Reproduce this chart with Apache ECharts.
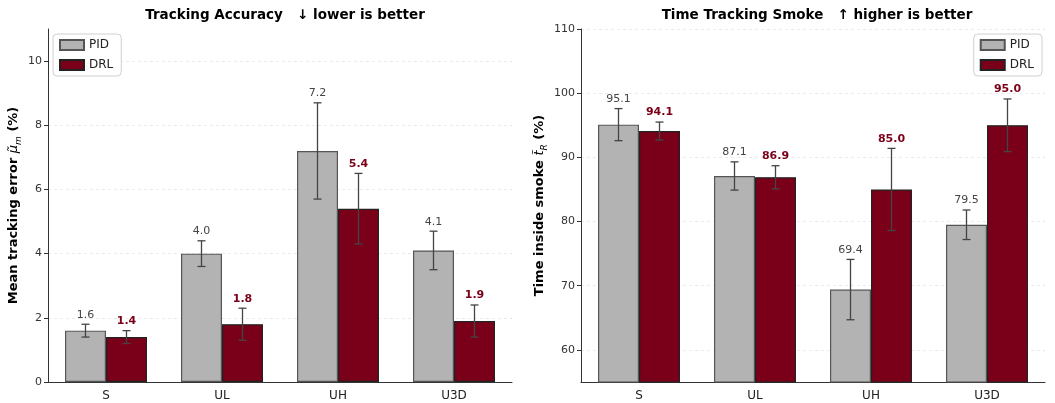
<!DOCTYPE html>
<html>
	<head>
		<meta charset="UTF-8">
		<title></title>
		<style>
			body{ margin: 0; background: #fff; }
		</style>
	</head>
	<script src="https://cdn.jsdelivr.net/npm/echarts@6/dist/echarts.min.js"></script>
	<body>
		<div id="main" style="width: 1055px;height:403px;"></div>
	</body>
	<script>
		// 数据
		var categories = ['S', 'UL', 'UH', 'U3D']
		var seriesNames = ['PID', 'DRL']

		// 左图：平均跟踪误差
		var errPid = [1.6, 4.0, 7.2, 4.1]
		var errDrl = [1.4, 1.8, 5.4, 1.9]
		var errPidStd = [0.2, 0.4, 1.5, 0.6]
		var errDrlStd = [0.2, 0.5, 1.1, 0.5]
		var errTicks = [0, 2, 4, 6, 8, 10]

		// 右图：在烟雾中的时间
		var smokePid = [95.1, 87.1, 69.4, 79.5]
		var smokeDrl = [94.1, 86.9, 85.0, 95.0]
		var smokePidStd = [2.5, 2.2, 4.7, 2.3]
		var smokeDrlStd = [1.4, 1.8, 6.4, 4.1]
		var smokeTicks = [60, 70, 80, 90, 100, 110]

		var FONT = 'DejaVu Sans'
		var PID_COLOR = '#b3b3b3'
		var DRL_COLOR = '#7a0019'
		var BAR_W = 41

		var myChart = echarts.init(document.getElementById('main'))

		function barSeries(name, data, idx, color, border) {
			return {
				name: name,
				type: 'bar',
				xAxisIndex: idx,
				yAxisIndex: idx,
				data: data,
				barWidth: BAR_W,
				barGap: '0%',
				itemStyle: { color: color, borderColor: border, borderWidth: 1.2 },
				z: 2
			}
		}

		// 误差棒 + 数值标签
		function errorSeries(idx, pid, drl, pidStd, drlStd) {
			var data = []
			for (var i = 0; i < pid.length; i++) {
				data.push([i, pid[i], pidStd[i], 0])
				data.push([i, drl[i], drlStd[i], 1])
			}
			return {
				type: 'custom',
				xAxisIndex: idx,
				yAxisIndex: idx,
				data: data,
				z: 5,
				silent: true,
				encode: { x: 0, y: 1 },
				renderItem: function (params, api) {
					var c = api.value(0), v = api.value(1), e = api.value(2), s = api.value(3)
					var off = (s === 0 ? -1 : 1) * BAR_W / 2
					var top = api.coord([c, v + e])
					var bot = api.coord([c, v - e])
					var x = top[0] + off
					var st = { stroke: '#444', lineWidth: 1.3 }
					return {
						type: 'group',
						children: [
							{ type: 'line', shape: { x1: x, y1: top[1], x2: x, y2: bot[1] }, style: st },
							{ type: 'line', shape: { x1: x - 4, y1: top[1], x2: x + 4, y2: top[1] }, style: st },
							{ type: 'line', shape: { x1: x - 4, y1: bot[1], x2: x + 4, y2: bot[1] }, style: st },
							{
								type: 'text',
								x: x, y: top[1] - 4,
								style: {
									text: v.toFixed(1),
									textAlign: 'center',
									textVerticalAlign: 'bottom',
									fontFamily: FONT,
									fontSize: 11,
									fontWeight: s === 0 ? 'normal' : 'bold',
									fill: s === 0 ? '#444' : DRL_COLOR
								}
							}
						]
					}
				}
			}
		}

		function xAxisOpt(idx) {
			return {
				type: 'category',
				gridIndex: idx,
				data: categories,
				axisLine: { lineStyle: { color: '#333', width: 1 } },
				axisTick: { show: false },
				axisLabel: { color: '#222', fontSize: 12, fontFamily: FONT, margin: 8 }
			}
		}

		function yAxisOpt(idx, min, max, ticks, nameRich, gap) {
			return {
				type: 'value',
				gridIndex: idx,
				min: min,
				max: max,
				name: nameRich,
				nameLocation: 'middle',
				nameRotate: 90,
				nameGap: gap,
				nameTextStyle: {
					fontFamily: FONT,
					rich: {
						b: { fontSize: 13, fontWeight: 'bold', color: '#000', fontFamily: FONT, lineHeight: 18 },
						i: { fontSize: 13, fontStyle: 'italic', color: '#000', fontFamily: FONT, lineHeight: 18 },
						s: { fontSize: 9, fontStyle: 'italic', color: '#000', fontFamily: FONT, lineHeight: 18, verticalAlign: 'bottom' }
					}
				},
				axisLine: { show: true, lineStyle: { color: '#333', width: 1 } },
				axisTick: { show: true, length: 4, customValues: ticks, lineStyle: { color: '#333' } },
				axisLabel: { customValues: ticks, color: '#333', fontSize: 11, fontFamily: FONT, margin: 6 },
				splitLine: { show: true, lineStyle: { color: '#e6e6e6', type: [3, 3], width: 0.8 } }
			}
		}

		function legendOpt(pos) {
			var l = {
				orient: 'vertical',
				top: 34,
				data: seriesNames,
				itemWidth: 24,
				itemHeight: 10,
				itemGap: 8,
				padding: [5, 8, 5, 6],
				borderColor: '#d0d0d0',
				borderWidth: 1,
				borderRadius: 4,
				backgroundColor: '#fff',
				icon: 'rect',
				textStyle: { fontFamily: FONT, fontSize: 12, color: '#222' }
			}
			for (var k in pos) l[k] = pos[k]
			return l
		}

		var option = {
			animation: false,
			textStyle: { fontFamily: FONT },
			title: [
				{
					text: 'Tracking Accuracy   ↓ lower is better',
					left: 280, top: 3, textAlign: 'center',
					textStyle: { fontFamily: FONT, fontSize: 13.5, fontWeight: 'bold', color: '#000' }
				},
				{
					text: 'Time Tracking Smoke   ↑ higher is better',
					left: 812, top: 3, textAlign: 'center',
					textStyle: { fontFamily: FONT, fontSize: 13.5, fontWeight: 'bold', color: '#000' }
				}
			],
			legend: [legendOpt({ left: 53 }), legendOpt({ right: 13 })],
			grid: [
				{ left: 48, width: 464, top: 29, bottom: 21 },
				{ left: 581, width: 464, top: 29, bottom: 21 }
			],
			xAxis: [xAxisOpt(0), xAxisOpt(1)],
			yAxis: [
				yAxisOpt(0, 0, 11, errTicks, '{b|Mean tracking error }{i|μ̃}{s|m}{b| (%)}', 25),
				yAxisOpt(1, 55, 110, smokeTicks, '{b|Time inside smoke }{i|t̃}{s|R}{b| (%)}', 32)
			],
			series: [
				barSeries('PID', errPid, 0, PID_COLOR, '#555'),
				barSeries('DRL', errDrl, 0, DRL_COLOR, '#222'),
				errorSeries(0, errPid, errDrl, errPidStd, errDrlStd),
				barSeries('PID', smokePid, 1, PID_COLOR, '#555'),
				barSeries('DRL', smokeDrl, 1, DRL_COLOR, '#222'),
				errorSeries(1, smokePid, smokeDrl, smokePidStd, smokeDrlStd)
			]
		}

		myChart.setOption(option)
	</script>
</html>
